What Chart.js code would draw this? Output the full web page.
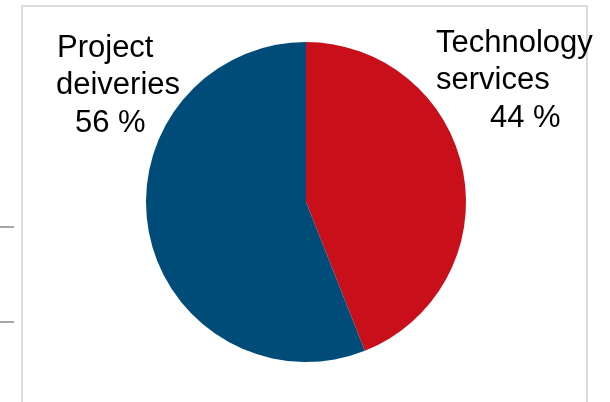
<!DOCTYPE html>
<html>
<head>
<meta charset="utf-8">
<script src="https://cdn.jsdelivr.net/npm/chart.js@4/dist/chart.umd.min.js"></script>
<style>
html,body{margin:0;padding:0;background:#fff;}
#wrap{width:610px;height:402px;position:relative;}
</style>
</head>
<body>
<div id="wrap"><canvas id="c" width="610" height="402"></canvas></div>
<script>
const categories = ["Technology services", "Project deiveries"];
const values = [44, 56];
const colors = ["#C80F1A", "#004C79"];
const labelLines = [["Technology", "services", "44 %"], ["Project", "deiveries", "56 %"]];

const framePlugin = {
  id: 'frame',
  beforeDraw(chart) {
    const ctx = chart.ctx;
    ctx.save();
    ctx.fillStyle = '#fff';
    ctx.fillRect(0, 0, chart.width, chart.height);
    ctx.strokeStyle = '#dcdcdc';
    ctx.lineWidth = 2;
    ctx.beginPath();
    ctx.moveTo(22, 402); ctx.lineTo(22, 6); ctx.lineTo(587, 6); ctx.lineTo(587, 402);
    ctx.stroke();
    ctx.strokeStyle = '#a6a6a6';
    ctx.beginPath();
    ctx.moveTo(0, 227); ctx.lineTo(14, 227);
    ctx.moveTo(0, 322); ctx.lineTo(14, 322);
    ctx.stroke();
    ctx.restore();
  }
};

const labelPlugin = {
  id: 'lbls',
  afterDraw(chart) {
    const ctx = chart.ctx;
    ctx.save();
    ctx.fillStyle = '#000';
    ctx.font = '31px "Liberation Sans", Arial, sans-serif';
    ctx.textBaseline = 'alphabetic';
    ctx.textAlign = 'left';
    const r = labelLines[0];
    ctx.fillText(r[0], 436, 52);
    ctx.fillText(r[1], 436, 89);
    ctx.fillText(r[2], 490, 127);
    const l = labelLines[1];
    ctx.fillText(l[0], 57, 57);
    ctx.fillText(l[1], 56, 94);
    ctx.fillText(l[2], 75, 132);
    ctx.restore();
  }
};

new Chart(document.getElementById('c'), {
  type: 'pie',
  data: {
    labels: categories,
    datasets: [{
      data: values,
      backgroundColor: colors,
      borderWidth: 0
    }]
  },
  options: {
    responsive: false,
    animation: false,
    layout: { padding: { left: 146, right: 144, top: 42, bottom: 40 } },
    plugins: { legend: { display: false }, tooltip: { enabled: false } }
  },
  plugins: [framePlugin, labelPlugin]
});
</script>
</body>
</html>
